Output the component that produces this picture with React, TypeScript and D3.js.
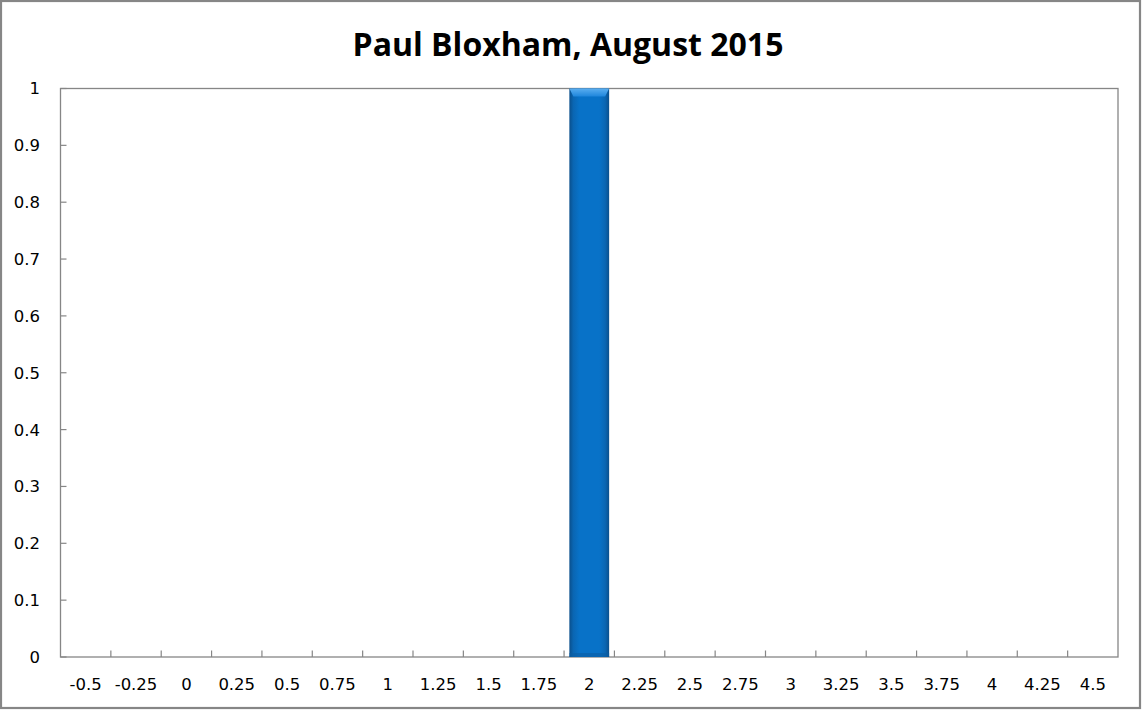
import React from "react";
import * as d3 from "d3";

const title = "Paul Bloxham, August 2015";
const categories = ["-0.5","-0.25","0","0.25","0.5","0.75","1","1.25","1.5","1.75","2","2.25","2.5","2.75","3","3.25","3.5","3.75","4","4.25","4.5"];
const values = [0,0,0,0,0,0,0,0,0,0,1,0,0,0,0,0,0,0,0,0,0];
const yTicks = [0,0.1,0.2,0.3,0.4,0.5,0.6,0.7,0.8,0.9,1];

const W = 1142, H = 710;
const L = 60.5, R = 1118, T = 88.5, B = 657;

export default function App() {
  const x = d3.scaleBand<string>().domain(categories).range([L, R]).paddingInner(0.21).paddingOuter(0.105);
  const y = d3.scaleLinear().domain([0, 1]).range([B, T]);
  const step = (R - L) / categories.length;
  const bounds = d3.range(1, categories.length).map((i) => L + step * i);
  const tickFont = "'DejaVu Sans', sans-serif";
  const titleFont = "'Open Sans', Lato, sans-serif";
  return (
    <svg width={W} height={H} style={{ position: "absolute", left: 0, top: 0, display: "block" }}>
      <defs>
        <linearGradient id="barG" x1="0" x2="1" y1="0" y2="0">
          <stop offset="0" stopColor="#0a4f8c" />
          <stop offset="0.1" stopColor="#0a66b3" />
          <stop offset="0.25" stopColor="#0872c8" />
          <stop offset="0.75" stopColor="#0872c8" />
          <stop offset="0.9" stopColor="#0a66b3" />
          <stop offset="1" stopColor="#0a4f8c" />
        </linearGradient>
        <linearGradient id="topG" x1="0" x2="0" y1="0" y2="1">
          <stop offset="0" stopColor="#5aaef0" />
          <stop offset="1" stopColor="#1f86dc" />
        </linearGradient>
      </defs>
      <rect x={0} y={0} width={W} height={H} fill="#fff" />
      <rect x={1} y={1} width={1139} height={707} fill="#fff" stroke="#868686" strokeWidth={2.2} />
      <text x={568} y={56} textAnchor="middle" fontFamily={titleFont} fontWeight="bold" fontSize={32} fill="#000">{title}</text>
      <rect x={L} y={T} width={R - L} height={B - T} fill="#fff" stroke="#868686" strokeWidth={1.3} />
      {yTicks.map((t) => (
        <g key={t}>
          <line x1={L} x2={L + 6} y1={y(t)} y2={y(t)} stroke="#868686" strokeWidth={1.2} />
          <text x={40} y={y(t)} dy="0.36em" textAnchor="end" fontFamily={tickFont} fontSize={16.5} fill="#000">{String(t)}</text>
        </g>
      ))}
      {categories.map((c) => (
        <text key={c} x={(x(c) as number) + x.bandwidth() / 2} y={690} textAnchor="middle" fontFamily={tickFont} fontSize={16.5} fill="#000">{c}</text>
      ))}
      {bounds.map((b, i) => (
        <line key={i} x1={b} x2={b} y1={B} y2={B - 6.5} stroke="#868686" strokeWidth={1.2} />
      ))}
      {categories.map((c, i) => {
        const v = values[i];
        if (!v) return null;
        const x0 = x(c) as number;
        const w = x.bandwidth();
        const top = y(v);
        const bev = 8;
        return (
          <g key={c}>
            <rect x={x0} y={top} width={w} height={B - top} fill="url(#barG)" />
            <polygon points={`${x0},${top} ${x0 + w},${top} ${x0 + w - 4},${top + bev} ${x0 + 4},${top + bev}`} fill="url(#topG)" />
            <rect x={x0} y={B - 4} width={w} height={4} fill="#0a5da3" opacity={0.6} />
          </g>
        );
      })}
    </svg>
  );
}
